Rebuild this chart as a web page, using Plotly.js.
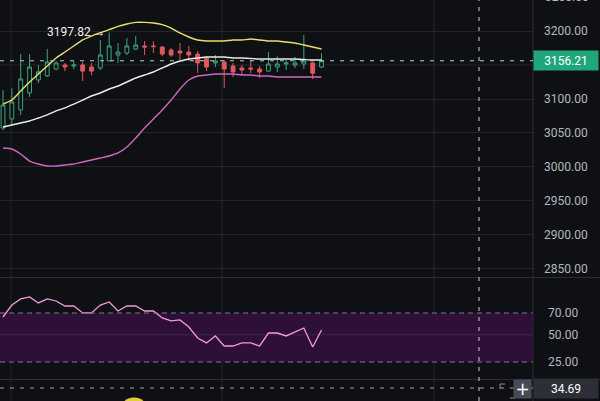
<!DOCTYPE html>
<html><head><meta charset="utf-8">
<script src="https://cdn.plot.ly/plotly-3.0.1.min.js"></script>
<style>html,body{margin:0;padding:0;background:#0f1013;overflow:hidden}#chart{width:600px;height:401px}</style>
</head><body><div id="chart"></div>
<script>
// ---- data ----
const bars = [0,1,2,3,4,5,6,7,8,9,10,11,12,13,14,15,16,17,18,19,20,21,22,23,24,25,26,27,28,29,30,31,32,33,34,35,36];
const open  = [3057.4,3070.6,3084,3109,3128,3134,3144,3150,3148.5,3150,3147,3145.6,3156,3164.7,3167.6,3173.5,3178,3178,3176.5,3172,3170.6,3169,3166,3160,3153,3154.4,3148.5,3145.6,3145.6,3144,3141,3147,3151.5,3150,3151.5,3153,3147];
const high  = [3113,3116,3166,3166,3150,3173.5,3156,3153,3156,3154,3153,3186.8,3197.82,3182.4,3189.7,3192.6,3185.3,3185,3177.5,3175,3182.4,3178,3170.6,3163,3164.7,3157.4,3153,3150,3157.4,3148.5,3169,3163,3157.4,3162,3194,3154.4,3167.6];
const low   = [3054,3062,3076.5,3103,3123.5,3132.4,3143,3141,3144,3126.5,3135,3142.6,3155.5,3153,3164.7,3172,3164.7,3167.6,3163,3162,3157.4,3156,3138,3141,3147,3116,3132.4,3135,3138,3131,3140.5,3139.7,3142.6,3145.6,3144,3129.4,3145.6];
const close = [3091.2,3095.6,3129.5,3147,3140,3154.4,3153,3147,3150,3141,3141,3164.7,3178,3169,3178,3179.4,3176.5,3177,3166,3164.7,3167.6,3164.7,3153,3147,3156,3144,3139.7,3142.6,3144,3139.7,3151.5,3151.5,3153,3153,3156,3138,3156.21];
const bbUpper  = [3092.6,3098.5,3111.8,3125,3136.8,3148.5,3160.3,3169.1,3177.9,3186.8,3192.6,3197.5,3201.9,3206.8,3210.3,3212.7,3212.7,3211.7,3209.3,3204.4,3197.1,3191.2,3186.8,3185.3,3185.3,3185.3,3186.8,3186.8,3188.2,3186.8,3185.3,3185.3,3183.8,3182.4,3179.4,3176.5,3173.5];
const bbMiddle = [3058.8,3061.8,3064.7,3067.6,3072.1,3076.5,3082.4,3086.8,3092.6,3098.5,3104.4,3108.8,3114.7,3119.1,3125,3130.9,3135.3,3139.7,3145.6,3151.5,3155.9,3158.8,3160.3,3161.8,3161.8,3161.8,3160.3,3160.3,3159.6,3158.8,3158.8,3158.8,3158.8,3158.8,3158.1,3157.4,3157.4];
const bbLower  = [3027.9,3026.5,3019.1,3008.8,3004.4,3001.5,3001.5,3002.9,3004.4,3007.4,3010.3,3013.2,3016.2,3020.6,3029.4,3042.6,3057.4,3070.6,3083.8,3098.5,3114.7,3127.9,3133.8,3135.3,3136.8,3136.8,3136.8,3135.3,3135.3,3133.8,3133.8,3132.4,3132.4,3132.4,3132.4,3132.4,3132.4];
const rsi = [66.3,77.3,82.9,84.7,79.2,82.9,81.0,76.4,76.4,70.0,70.0,77.3,80.1,71.8,76.4,76.4,71.8,71.8,65.4,62.7,63.6,57.1,47.0,42.5,48.9,39.7,39.7,42.5,42.5,39.7,51.6,51.6,48.9,52.6,56.2,38.8,54.4];
const priceTicks = [2850,2900,2950,3000,3050,3100,3200];
const priceTickText = ['2850.00','2900.00','2950.00','3000.00','3050.00','3100.00','3200.00'];
const hiddenGrid = [3150];
const rsiTicks = [25,50,70];
const rsiTickText = ['25.00','50.00','70.00'];
const rsiBand = [25,70];
const lastPrice = 3156.21;
const peakLabel = '3197.82';
const peakBar = 12;
const crossValue = '34.69';
const topCutLabel = '3250.00';

// ---- chart ----
const BG = '#0f1013';
const GRID = '#23252b';
const TXT = '#b4b7bf';
const XR = [-0.34, 59.9];
const px = v => v/533;          // pixel -> paper x
const py = v => 1 - v/401;      // pixel -> paper y

const traces = [
  {type:'candlestick', x:bars, open:open, high:high, low:low, close:close, xaxis:'x', yaxis:'y',
   increasing:{line:{color:'#3fa37e',width:1}, fillcolor:BG},
   decreasing:{line:{color:'#e0585c',width:1}, fillcolor:'#e0585c'},
   whiskerwidth:0, hoverinfo:'skip'},
  {type:'scatter', mode:'lines', x:bars, y:bbLower, xaxis:'x', yaxis:'y', line:{color:'#cf67c2',width:1.4,shape:'spline',smoothing:0.5}},
  {type:'scatter', mode:'lines', x:bars, y:bbMiddle, xaxis:'x', yaxis:'y', line:{color:'#ececec',width:1.4,shape:'spline',smoothing:0.5}},
  {type:'scatter', mode:'lines', x:bars, y:bbUpper, xaxis:'x', yaxis:'y', line:{color:'#e8df72',width:1.4,shape:'spline',smoothing:0.5}},
  {type:'scatter', mode:'lines', x:bars, y:rsi, xaxis:'x2', yaxis:'y2', line:{color:'#f39ad8',width:1.3}}
];

const gridX = [0.9, 24.75, 48.71];
const shapes = [];
gridX.forEach(g => shapes.push({type:'line', xref:'x', yref:'paper', x0:g, x1:g, y0:0, y1:1, line:{color:GRID,width:1}, layer:'below'}));
hiddenGrid.forEach(g => shapes.push({type:'line', xref:'paper', yref:'y', x0:0, x1:1, y0:g, y1:g, line:{color:GRID,width:1}, layer:'below'}));
// RSI band
shapes.push({type:'rect', xref:'paper', yref:'y2', x0:0, x1:1, y0:rsiBand[0], y1:rsiBand[1], fillcolor:'#2e0f38', line:{width:0}, layer:'below'});
shapes.push({type:'line', xref:'paper', yref:'y2', x0:0, x1:1, y0:50, y1:50, line:{color:'#40254a',width:1}, layer:'below'});
shapes.push({type:'line', xref:'paper', yref:'y2', x0:0, x1:1, y0:rsiBand[1], y1:rsiBand[1], line:{color:'#7a7c85',width:1,dash:'5px,4px'}});
shapes.push({type:'line', xref:'paper', yref:'y2', x0:0, x1:1, y0:rsiBand[0], y1:rsiBand[0], line:{color:'#7a7c85',width:1,dash:'5px,4px'}});
// pane separators
shapes.push({type:'line', xref:'paper', yref:'paper', x0:0, x1:1.2, y0:py(277.5), y1:py(277.5), line:{color:'#2a2d35',width:1}});
shapes.push({type:'line', xref:'paper', yref:'paper', x0:0, x1:1.2, y0:py(379.5), y1:py(379.5), line:{color:'#2a2d35',width:1}});
shapes.push({type:'line', xref:'paper', yref:'paper', x0:1, x1:1, y0:0, y1:1, line:{color:'#2a2d35',width:1}});
// last price line
shapes.push({type:'line', xref:'paper', yref:'y', x0:0, x1:1, y0:lastPrice, y1:lastPrice, line:{color:'#a6d9c5',width:1,dash:'4px,6px'}});
// crosshair
shapes.push({type:'line', xref:'paper', yref:'paper', x0:px(479), x1:px(479), y0:0, y1:1, line:{color:'#d0d0d0',width:1,dash:'4px,6px'}});
shapes.push({type:'line', xref:'paper', yref:'paper', x0:0, x1:1, y0:py(388), y1:py(388), line:{color:'#a0a2a8',width:1,dash:'4px,6px'}});
// expand icon corners
shapes.push({type:'path', xref:'paper', yref:'paper', path:`M ${px(500)} ${py(389)} L ${px(500)} ${py(384)} L ${px(505)} ${py(384)} M ${px(510)} ${py(398)} L ${px(515)} ${py(398)} L ${px(515)} ${py(393)}`, line:{color:'#8a8d96',width:1}});
// yellow blob at bottom
shapes.push({type:'circle', xref:'paper', yref:'paper', x0:px(121), x1:px(147), y0:py(397.5), y1:py(420), fillcolor:'#e6cf33', line:{width:0}});

const annotations = [
  {xref:'x', yref:'y', x:peakBar, y:high[peakBar], text:peakLabel+' →', showarrow:false, xanchor:'right', yanchor:'middle', xshift:-1, font:{color:'#f0f0f0',size:12,family:'Roboto'}},
  {xref:'paper', yref:'y', x:1, y:lastPrice, text:lastPrice.toFixed(2), showarrow:false, xanchor:'left', yanchor:'middle', bgcolor:'#1fa77b', width:62, height:17, borderpad:1, align:'center', font:{color:'#ffffff',size:12,family:'Roboto'}},
  {xref:'paper', yref:'paper', x:1, y:py(388), text:crossValue, showarrow:false, xanchor:'left', yanchor:'middle', bgcolor:'#2c2f38', width:62, height:17, borderpad:1, align:'center', font:{color:'#ffffff',size:12,family:'Roboto'}},
  {xref:'paper', yref:'paper', x:px(532), y:py(388.5), text:'+', showarrow:false, xanchor:'right', yanchor:'middle', bgcolor:'#474b57', width:15, height:16, borderpad:1, align:'center', font:{color:'#ffffff',size:17,family:'DejaVu Sans'}},
  {xref:'paper', yref:'paper', x:1, y:py(-3), text:topCutLabel, showarrow:false, xanchor:'left', yanchor:'middle', xshift:10, font:{color:TXT,size:12,family:'Roboto'}}
];

const layout = {
  width:600, height:401,
  paper_bgcolor:BG, plot_bgcolor:BG,
  margin:{l:0,r:67,t:0,b:0,pad:0},
  showlegend:false, hovermode:false,
  boxgap:0.38,
  xaxis:{domain:[0,1], range:XR, anchor:'y', showticklabels:false, showgrid:false, zeroline:false, showline:false, ticks:'', rangeslider:{visible:false}, fixedrange:true},
  xaxis2:{domain:[0,1], range:XR, anchor:'y2', showticklabels:false, showgrid:false, zeroline:false, showline:false, ticks:'', fixedrange:true},
  yaxis:{domain:[py(277),1], range:[2838.2,3245.6], side:'right', tickmode:'array', tickvals:priceTicks, ticktext:priceTickText,
         showgrid:true, gridcolor:GRID, gridwidth:1, zeroline:false, showline:false, ticks:'', ticklabelstandoff:10,
         tickfont:{color:TXT,size:12,family:'Roboto'}, fixedrange:true},
  yaxis2:{domain:[py(379),py(278)], range:[9.4,102.1], side:'right', tickmode:'array', tickvals:rsiTicks, ticktext:rsiTickText,
         showgrid:false, zeroline:false, showline:false, ticks:'', ticklabelstandoff:14,
         tickfont:{color:TXT,size:12,family:'Roboto'}, fixedrange:true},
  shapes:shapes, annotations:annotations
};

Plotly.newPlot('chart', traces, layout, {staticPlot:true, displayModeBar:false});
</script>
</body></html>
